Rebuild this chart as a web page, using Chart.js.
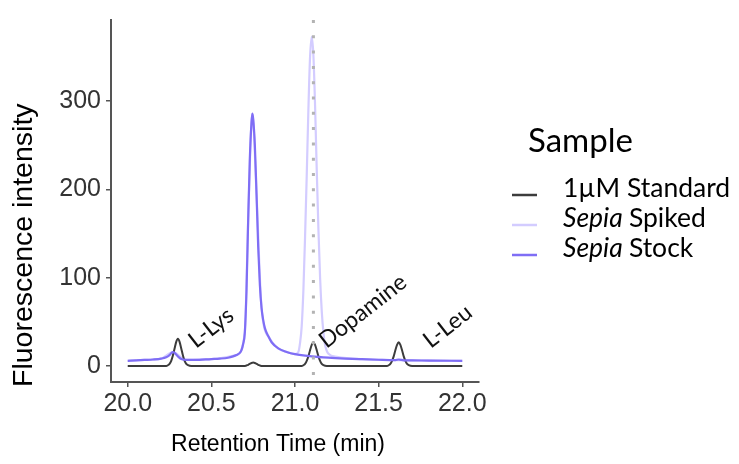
<!DOCTYPE html>
<html>
<head>
<meta charset="utf-8">
<script src="https://cdn.jsdelivr.net/npm/chart.js@4"></script>
<style>
  body { margin: 0; background: #fff; }
</style>
</head>
<body>
<canvas id="chromChart" width="739" height="464"></canvas>
<script>
// retention time (min) / fluorescence for each sample
const standardTime = [20.00, 20.23, 20.24, 20.25, 20.26, 20.27, 20.28, 20.29, 20.30, 20.31, 20.32, 20.33, 20.34, 20.35, 20.36, 20.38,
  20.70, 20.72, 20.74, 20.75, 20.76, 20.78, 20.80,
  21.04, 21.05, 21.06, 21.07, 21.08, 21.09, 21.10, 21.11, 21.12, 21.13, 21.14, 21.15, 21.16, 21.17, 21.19,
  21.55, 21.56, 21.57, 21.58, 21.59, 21.60, 21.61, 21.62, 21.63, 21.64, 21.65, 21.66, 21.67, 21.68, 21.70, 22.00];
const standardValue = [0, 0, 1, 2.5, 6, 12, 20, 27.5, 31, 27.5, 20, 12, 6, 2.5, 1, 0,
  0, 1.5, 3.5, 4, 3.5, 1.5, 0,
  0, 1, 2.5, 6, 11, 18, 24, 27, 24, 18, 11, 6, 2.5, 1, 0,
  0, 1, 2.5, 6, 11, 18, 24, 27, 24, 18, 11, 6, 2.5, 1, 0, 0];

const spikedTime = [20.00, 20.10, 20.20, 20.27, 20.35, 20.50, 20.65, 20.70, 20.72, 20.745, 20.77, 20.80, 20.85, 20.90, 20.95,
  21.00, 21.02, 21.03, 21.04, 21.05, 21.06, 21.07, 21.08, 21.09, 21.10, 21.11, 21.12, 21.13, 21.14, 21.15, 21.16, 21.17, 21.18,
  21.20, 21.25, 21.40, 21.60, 22.00];
const spikedValue = [6, 7, 8.5, 16, 7, 8, 12.5, 38, 165, 286, 195, 66, 31, 20, 16,
  13.5, 16, 26, 45, 85, 145, 215, 290, 350, 373, 352, 295, 222, 155, 100, 62, 38, 24,
  14, 10.5, 7.8, 6.8, 6];

const stockTime = [20.00, 20.05, 20.10, 20.15, 20.20, 20.23, 20.25, 20.26, 20.27, 20.28, 20.30, 20.32, 20.35, 20.40, 20.50,
  20.55, 20.60, 20.63, 20.65, 20.67, 20.68, 20.69, 20.70, 20.71, 20.72, 20.73, 20.74, 20.745, 20.75, 20.76, 20.77, 20.78, 20.79,
  20.80, 20.81, 20.82, 20.84, 20.86, 20.90, 20.95, 21.00, 21.10, 21.20, 21.30, 21.40, 21.50, 21.60, 21.62, 21.65, 21.70, 21.80, 22.00];
const stockValue = [6, 6.5, 7, 7.5, 8.5, 10, 12.5, 14.5, 16, 15, 11, 8, 7, 7, 8,
  8.5, 9.5, 11, 12.5, 15, 18, 25, 38, 85, 165, 235, 276, 286, 280, 250, 195, 135, 92,
  66, 52, 43, 34, 27, 20, 16, 13.5, 11, 9.5, 8.5, 7.8, 7.2, 6.8, 7.5, 6.6, 6.5, 6.2, 6];

const sampleNames = ['1µM Standard', 'Sepia Spiked', 'Sepia Stock'];
const peakNames = ['L-Lys', 'Dopamine', 'L-Leu'];
const peakTimes = [20.30, 21.11, 21.62];
const dopamineTime = 21.11;

const xTicks = [20.0, 20.5, 21.0, 21.5, 22.0];
const yTicks = [0, 100, 200, 300];

function toPoints(times, values) {
  return times.map((t, i) => ({ x: t, y: values[i] }));
}

const tickFont = { family: 'Liberation Sans', size: 25 };
const keyFont = 'Lato';

// dotted reference line at the dopamine retention time
const refLine = {
  id: 'refLine',
  afterDatasetsDraw(chart) {
    const ctx = chart.ctx;
    const area = chart.chartArea;
    const x = chart.scales.x.getPixelForValue(dopamineTime);
    ctx.save();
    ctx.strokeStyle = '#b3b3b3';
    ctx.lineWidth = 3;
    ctx.setLineDash([3, 12.3]);
    ctx.beginPath();
    ctx.moveTo(x, area.top);
    ctx.lineTo(x, area.bottom);
    ctx.stroke();
    ctx.restore();
  }
};

// slanted peak names next to each standard peak
const peakLabels = {
  id: 'peakLabels',
  afterDatasetsDraw(chart) {
    const ctx = chart.ctx;
    const xs = chart.scales.x, ys = chart.scales.y;
    const dx = [18, 13, 32];
    ctx.save();
    ctx.fillStyle = '#111';
    ctx.font = '23px ' + keyFont;
    ctx.textAlign = 'left';
    ctx.textBaseline = 'alphabetic';
    peakNames.forEach((name, i) => {
      const px = xs.getPixelForValue(peakTimes[i]) + dx[i];
      const py = ys.getPixelForValue(0) - 17;
      ctx.save();
      ctx.translate(px, py);
      ctx.rotate(-38 * Math.PI / 180);
      ctx.fillText(name, 0, 0);
      ctx.restore();
    });
    ctx.restore();
  }
};

// axis titles and the sample key on the right
const titlesAndKey = {
  id: 'titlesAndKey',
  afterDraw(chart) {
    const ctx = chart.ctx;
    const area = chart.chartArea;
    ctx.save();
    ctx.fillStyle = '#000';
    ctx.font = '23px Liberation Sans';
    ctx.textAlign = 'center';
    ctx.textBaseline = 'alphabetic';
    ctx.fillText('Retention Time (min)', 278, 451);

    ctx.save();
    ctx.translate(24, area.bottom + 5);
    ctx.rotate(-Math.PI / 2);
    ctx.font = '28.5px Liberation Sans';
    ctx.textAlign = 'left';
    ctx.textBaseline = 'middle';
    ctx.fillText('Fluorescence intensity', 0, 0);
    ctx.restore();

    ctx.textAlign = 'left';
    ctx.font = '33px ' + keyFont;
    ctx.fillStyle = '#000';
    ctx.fillText('Sample', 528, 152);

    chart.data.datasets.forEach((ds, i) => {
      const y = 195 + i * 30;
      ctx.strokeStyle = ds.borderColor;
      ctx.lineWidth = 2.5;
      ctx.beginPath();
      ctx.moveTo(512, y);
      ctx.lineTo(537, y);
      ctx.stroke();

      let x = 563;
      const base = y + 2;
      const label = ds.label;
      ctx.fillStyle = '#000';
      if (label.startsWith('Sepia')) {
        ctx.font = 'italic 26.5px ' + keyFont;
        ctx.fillText('Sepia', x, base);
        x += ctx.measureText('Sepia ').width;
        ctx.font = '26.5px ' + keyFont;
        ctx.fillText(label.slice(6), x, base);
      } else {
        ctx.font = '26.5px ' + keyFont;
        ctx.fillText(label, x, base);
      }
    });
    ctx.restore();
  }
};

function buildChart() {
  const ctx = document.getElementById('chromChart').getContext('2d');
  new Chart(ctx, {
    type: 'line',
    data: {
      datasets: [
        {
          label: sampleNames[0],
          data: toPoints(standardTime, standardValue),
          borderColor: '#3c3c3c',
          borderWidth: 2,
          order: 2
        },
        {
          label: sampleNames[1],
          data: toPoints(spikedTime, spikedValue),
          borderColor: '#d3ccff',
          borderWidth: 2.2,
          order: 3
        },
        {
          label: sampleNames[2],
          data: toPoints(stockTime, stockValue),
          borderColor: '#7f6ef5',
          borderWidth: 2.2,
          order: 1
        }
      ]
    },
    options: {
      responsive: false,
      animation: false,
      devicePixelRatio: 1,
      parsing: false,
      layout: { padding: { top: 15, right: 260, bottom: 0, left: 8 } },
      elements: {
        point: { radius: 0 },
        line: { cubicInterpolationMode: 'monotone', fill: false }
      },
      plugins: {
        legend: { display: false },
        tooltip: { enabled: false }
      },
      scales: {
        x: {
          type: 'linear',
          min: 19.9,
          max: 22.1,
          afterFit: s => { s.height = 82; },
          afterBuildTicks: s => { s.ticks = xTicks.map(v => ({ value: v })); },
          ticks: {
            font: tickFont,
            color: '#333',
            padding: 2,
            maxRotation: 0,
            callback: v => v.toFixed(1)
          },
          grid: { drawOnChartArea: false, drawTicks: true, tickLength: 5, color: '#555', lineWidth: 1.5 },
          border: { color: '#555', width: 2 }
        },
        y: {
          min: -18,
          max: 392,
          afterFit: s => { s.width = 103; },
          afterBuildTicks: s => { s.ticks = yTicks.map(v => ({ value: v })); },
          ticks: { font: tickFont, color: '#333', padding: 5 },
          grid: { drawOnChartArea: false, drawTicks: true, tickLength: 5, color: '#555', lineWidth: 1.5 },
          border: { color: '#555', width: 2 }
        }
      }
    },
    plugins: [refLine, peakLabels, titlesAndKey]
  });
}

Promise.all([
  document.fonts.load('26px Lato'),
  document.fonts.load('italic 26px Lato'),
  document.fonts.load('25px "Liberation Sans"')
]).then(buildChart, buildChart);
</script>
</body>
</html>
